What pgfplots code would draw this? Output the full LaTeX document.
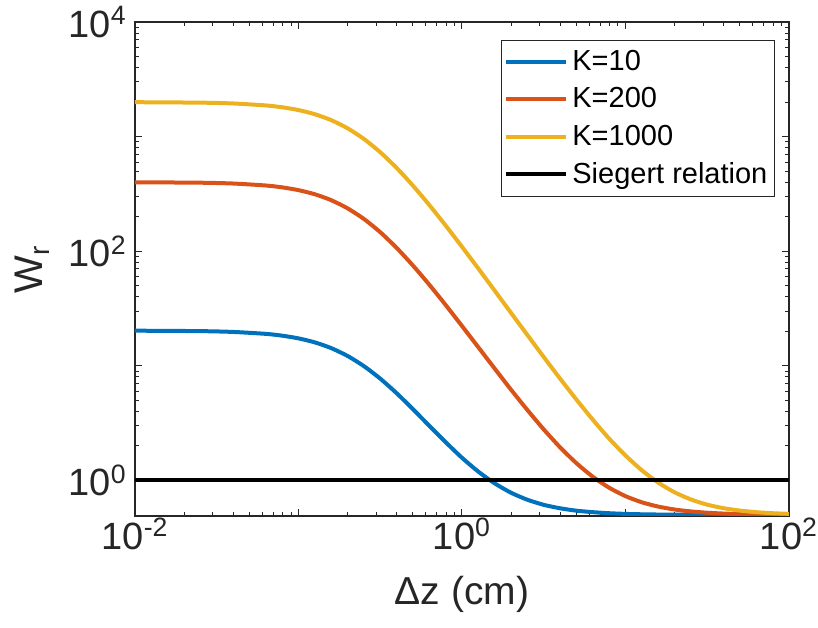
\documentclass[border=0pt]{standalone}
\usepackage{pgfplots}
\pgfplotsset{compat=1.18}
\usepackage{fontspec}
\setmainfont{Liberation Sans}
\definecolor{mblue}{rgb}{0,0.447,0.741}
\definecolor{morange}{rgb}{0.850,0.325,0.098}
\definecolor{myellow}{rgb}{0.929,0.694,0.125}
\definecolor{axgray}{rgb}{0.15,0.15,0.15}
\newcommand{\tickfont}{\fontsize{19}{22}\selectfont}
\newcommand{\legfont}{\fontsize{14.5}{17}\selectfont}
\begin{document}
\begin{tikzpicture}
\begin{axis}[
  scale only axis, width=327pt, height=247pt,
  xmode=log, ymode=log,
  xmin=0.01, xmax=100, ymin=0.49, ymax=10000,
  xtick={0.01,0.1,1,10,100},
  xticklabels={10\textsuperscript{-2},,10\textsuperscript{0},,10\textsuperscript{2}},
  ytick={1,10,100,1000,10000},
  yticklabels={10\textsuperscript{0},,10\textsuperscript{2},,10\textsuperscript{4}},
  axis line style={axgray, line width=0.6pt},
  every tick/.style={axgray, line width=0.5pt},
  major tick length=3.5pt, minor tick length=2pt,
  tick align=inside,
  tick label style={font=\tickfont, text=axgray},
  xticklabel style={inner ysep=1pt, inner xsep=0pt},
  yticklabel style={inner xsep=4pt, inner ysep=0pt},
  xlabel={Δz (cm)},
  ylabel={W\textsubscript{r}},
  every axis x label/.style={at={(axis description cs:0.5,0)}, anchor=north,
    yshift=-30pt, inner sep=0pt, font=\fontsize{19.5}{22}\selectfont, text=axgray},
  every axis y label/.style={at={(axis description cs:-0.157,0.5)}, anchor=center,
    rotate=90, inner sep=0pt, font=\fontsize{20}{22}\selectfont, text=axgray},
  legend style={draw=axgray, line width=0.5pt, at={(0.9785,0.9636)}, anchor=north east,
    font=\legfont, text=black, inner xsep=1.5pt, inner ysep=3pt,
    row sep=3pt, cells={anchor=west}},
  legend image code/.code={\draw[#1] (0pt,0pt) -- (30pt,0pt);},
]
\addplot[mblue, line width=2pt, smooth, tension=0.4] coordinates {
 (0.01,20.27) (0.02512,20.09) (0.03981,19.77) (0.0631,19.02) (0.07943,18.34)
 (0.1,17.37) (0.1259,16.03) (0.1585,14.29) (0.1995,12.21) (0.2512,9.95)
 (0.3162,7.74) (0.3981,5.78) (0.5012,4.19) (0.631,3.00) (0.7943,2.16)
 (1,1.578) (1.259,1.194) (1.585,0.944) (1.995,0.782) (2.512,0.679)
 (3.162,0.613) (3.981,0.572) (5.012,0.545) (6.31,0.529) (7.943,0.518)
 (10,0.511) (12.59,0.507) (15.85,0.5045) (19.95,0.503) (25.12,0.502)
 (31.62,0.501) (39.81,0.5007) (50.12,0.5005) (63.1,0.5003) (79.43,0.5002) (100,0.5001)};
\addlegendentry{K=10}
\addplot[morange, line width=2pt, smooth, tension=0.4] coordinates {
 (0.01,399.8) (0.02512,396.2) (0.03981,389.8) (0.0631,374.6) (0.07943,361.0)
 (0.1,341.3) (0.1259,314.2) (0.1585,279.0) (0.1995,237.0) (0.2512,191.4)
 (0.3162,146.7) (0.3981,107.1) (0.5012,75.1) (0.631,51.1) (0.7943,34.0)
 (1,22.28) (1.259,14.53) (1.585,9.47) (1.995,6.20) (2.512,4.12)
 (3.162,2.79) (3.981,1.948) (5.012,1.415) (6.31,1.078) (7.943,0.865)
 (10,0.730) (12.59,0.645) (15.85,0.592) (19.95,0.558) (25.12,0.537)
 (31.62,0.523) (39.81,0.5145) (50.12,0.509) (63.1,0.5058) (79.43,0.5037) (100,0.5023)};
\addlegendentry{K=200}
\addplot[myellow, line width=2pt, smooth, tension=0.4] coordinates {
 (0.01,1997) (0.02512,1979) (0.03981,1947) (0.0631,1871) (0.07943,1803)
 (0.1,1705) (0.1259,1569) (0.1585,1393) (0.1995,1183) (0.2512,955)
 (0.3162,731) (0.3981,533.6) (0.5012,373.6) (0.631,253.3) (0.7943,167.8)
 (1,109.4) (1.259,70.6) (1.585,45.3) (1.995,29.0) (2.512,18.6)
 (3.162,11.95) (3.981,7.74) (5.012,5.08) (6.31,3.39) (7.943,2.32)
 (10,1.652) (12.59,1.227) (15.85,0.959) (19.95,0.789) (25.12,0.683)
 (31.62,0.615) (39.81,0.573) (50.12,0.546) (63.1,0.529) (79.43,0.518) (100,0.5115)};
\addlegendentry{K=1000}
\addplot[black, line width=2pt] coordinates {(0.01,1) (100,1)};
\addlegendentry{Siegert relation}
\end{axis}
\path (-67.5pt,-56pt) rectangle (341.5pt,258pt);
\end{tikzpicture}
\end{document}
